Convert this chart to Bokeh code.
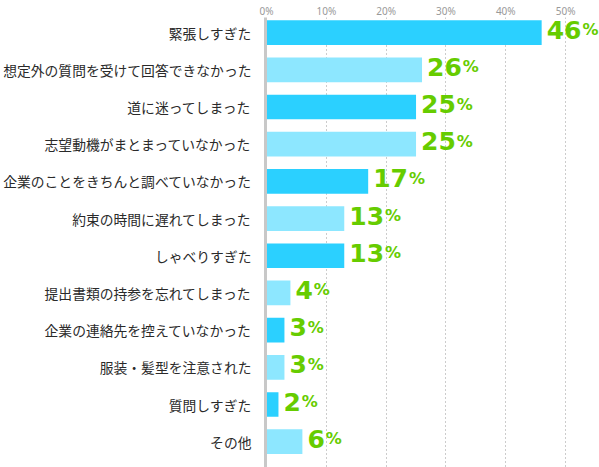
from bokeh.plotting import figure
from bokeh.models import ColumnDataSource, Range1d, FixedTicker, PrintfTickFormatter
from bokeh.core.properties import value
from bokeh.embed import file_html
from bokeh.resources import INLINE

# survey answers, top to bottom
categories = [
    "緊張しすぎた",
    "想定外の質問を受けて回答できなかった",
    "道に迷ってしまった",
    "志望動機がまとまっていなかった",
    "企業のことをきちんと調べていなかった",
    "約束の時間に遅れてしまった",
    "しゃべりすぎた",
    "提出書類の持参を忘れてしまった",
    "企業の連絡先を控えていなかった",
    "服装・髪型を注意された",
    "質問しすぎた",
    "その他",
]
percents = [46, 26, 25, 25, 17, 13, 13, 4, 3, 3, 2, 6]
x_ticks = [0, 10, 20, 30, 40, 50]

DARK = "#2BD0FF"
LIGHT = "#8DE7FF"
GREEN = "#66CC00"
DIGIT_W = 17.4  # px width of one digit at 25px DejaVu Sans Bold

pos = list(range(len(categories)))
source = ColumnDataSource(data=dict(
    pos=pos,
    pct=percents,
    num=[str(v) for v in percents],
    sign=["%"] * len(percents),
    color=[DARK if i % 2 == 0 else LIGHT for i in pos],
    sign_off=[5 + len(str(v)) * DIGIT_W + 1 for v in percents],
))

p = figure(
    width=599, height=467,
    x_range=Range1d(-1 / 6, 55.67),
    y_range=Range1d(11.694, -0.407),
    x_axis_location="above",
    output_backend="svg",
    toolbar_location=None,
    min_border_left=264, min_border_right=0,
    min_border_top=0, min_border_bottom=0,
)
p.title.visible = False
p.outline_line_color = None
p.ygrid.grid_line_color = None

p.hbar(y="pos", left=0, right="pct", height=0.664, color="color",
       line_color=None, source=source)

p.text(x="pct", y="pos", text="num", source=source,
       x_offset=5, y_offset=-3, text_baseline="alphabetic", text_align="left",
       text_font=value("DejaVu Sans"), text_font_style="bold",
       text_font_size="25px", text_color=GREEN)
p.text(x="pct", y="pos", text="sign", source=source,
       x_offset="sign_off", y_offset=-3, text_baseline="alphabetic", text_align="left",
       text_font=value("DejaVu Sans"), text_font_style="bold",
       text_font_size="16px", text_color=GREEN)

# top percentage axis
xa = p.xaxis[0]
xa.ticker = FixedTicker(ticks=x_ticks)
xa.formatter = PrintfTickFormatter(format="%d%%")
xa.axis_line_color = None
xa.major_tick_line_color = None
xa.minor_tick_line_color = None
xa.major_tick_out = 0
xa.major_label_standoff = 0
xa.major_label_text_font = "Noto Sans"
xa.major_label_text_font_size = "10px"
xa.major_label_text_color = "#999999"

p.xgrid.ticker = FixedTicker(ticks=x_ticks[1:])
p.xgrid.grid_line_color = "#999999"
p.xgrid.grid_line_dash = "1 3"
p.xgrid.grid_line_width = 1

# category axis
ya = p.yaxis[0]
ya.ticker = FixedTicker(ticks=pos)
ya.major_label_overrides = {i: c for i, c in enumerate(categories)}
ya.axis_line_color = "#C8C8C8"
ya.axis_line_width = 3
ya.major_tick_line_color = None
ya.minor_tick_line_color = None
ya.major_tick_out = 0
ya.major_label_standoff = 14
ya.major_label_text_font = "Noto Sans CJK JP"
ya.major_label_text_font_size = "13.8px"
ya.major_label_text_color = "#2A2A2A"

open("out.html", "w").write(file_html(p, INLINE))
